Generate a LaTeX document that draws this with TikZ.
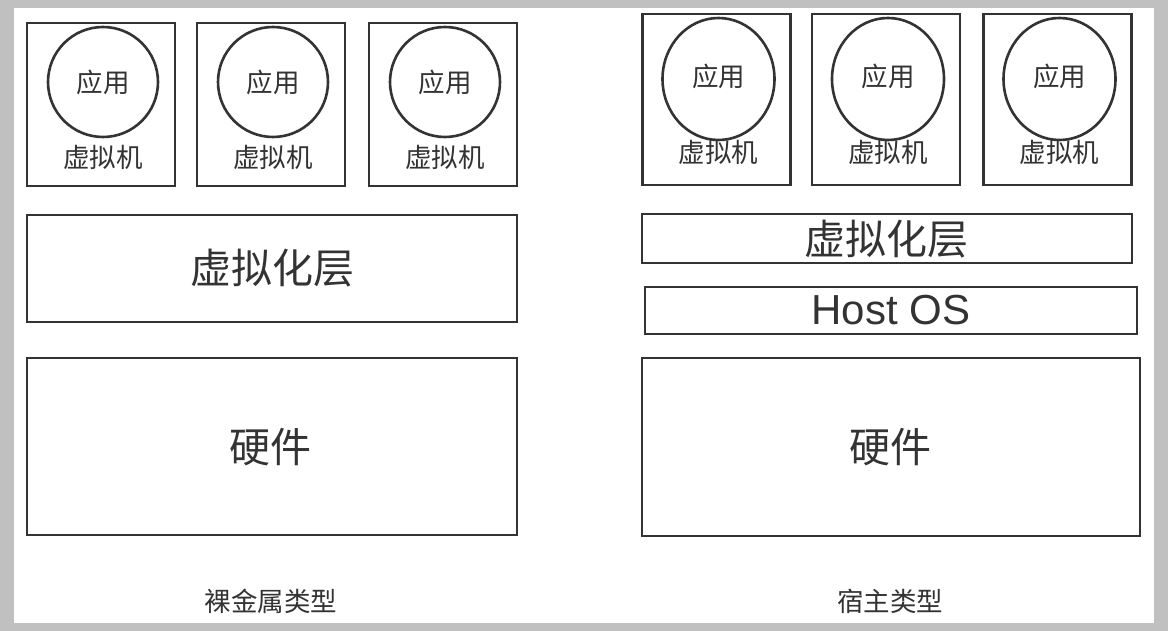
\documentclass[tikz,border=0pt]{standalone}
\usepackage{fontspec}
\setmainfont{Noto Sans CJK SC}
\newfontfamily\hostfont{Liberation Sans}
\usetikzlibrary{shapes.geometric}
\definecolor{inkgray}{HTML}{333333}
\definecolor{framegray}{HTML}{C0C0C0}
\newcommand{\smallsize}{\fontsize{26.5}{28}\selectfont}
\newcommand{\bigsize}{\fontsize{41}{44}\selectfont}
\newcommand{\lcol}{272}
\newcommand{\rcol}{889}

\begin{document}
\begin{tikzpicture}[x=1pt, y=-1pt,
	box/.style={draw=inkgray, line width=2.6pt, rectangle, inner sep=0pt},
	txt/.style={text=inkgray, inner sep=0pt}]
	\useasboundingbox (0,0) rectangle (1168,631);
	\fill[framegray] (0,0) rectangle (1168,631); % grey frame
	\fill[white] (14,8) rectangle (1154,623);
		% bare metal type
		\foreach \i/\x in {1/101, 2/271, 3/443} {
			\node[box, minimum width=148pt, minimum height=163pt] (lvm\i) at (\x,104.5) {}; % virtual machine
			\node[box, circle, minimum size=110pt, txt, font=\smallsize] (lapp\i) at (\x+2,82) {应用}; % application
			\node[txt, font=\smallsize] (lvmtext\i) at (\x+2,157) {虚拟机};
		};
		\node[box, minimum width=490pt, minimum height=107pt] (lvirt) at (\lcol,268.5) {};
		\node[txt, font=\bigsize] (lvirttext) at (\lcol,268) {虚拟化层};
		\node[box, minimum width=490pt, minimum height=177pt] (lhw) at (\lcol,446.5) {};
		\node[txt, font=\bigsize] (lhwtext) at (270,447) {硬件};
		\node[txt, font=\smallsize] (lcap) at (271,601) {裸金属类型};
		% hosted type
		\foreach \i/\x in {1/716.5, 2/886, 3/1057.5} {
			\node[box, minimum width=148pt, minimum height=171pt] (rvm\i) at (\x,99.5) {}; % virtual machine
			\node[box, ellipse, minimum width=112pt, minimum height=122pt, txt, font=\smallsize] (rapp\i) at (\x+2,79) {}; % application
			\node[txt, font=\smallsize] (rapptext\i) at (\x+2,76) {应用};
			\node[txt, font=\smallsize] (rvmtext\i) at (\x+2,152) {虚拟机};
		};
		\node[box, minimum width=490pt, minimum height=49pt] (rvirt) at (887,238.5) {};
		\node[txt, font=\bigsize] (rvirttext) at (886,239) {虚拟化层};
		\node[box, minimum width=492pt, minimum height=47pt] (ros) at (891,310.5) {};
		\node[txt, font=\fontsize{42}{44}\selectfont\hostfont] (rostext) at (891,310) {Host OS};
		\node[box, minimum width=498pt, minimum height=178pt] (rhw) at (891,447) {};
		\node[txt, font=\bigsize] (rhwtext) at (890,447) {硬件};
		\node[txt, font=\smallsize] (rcap) at (890,601) {宿主类型};
\end{tikzpicture}
\end{document}
